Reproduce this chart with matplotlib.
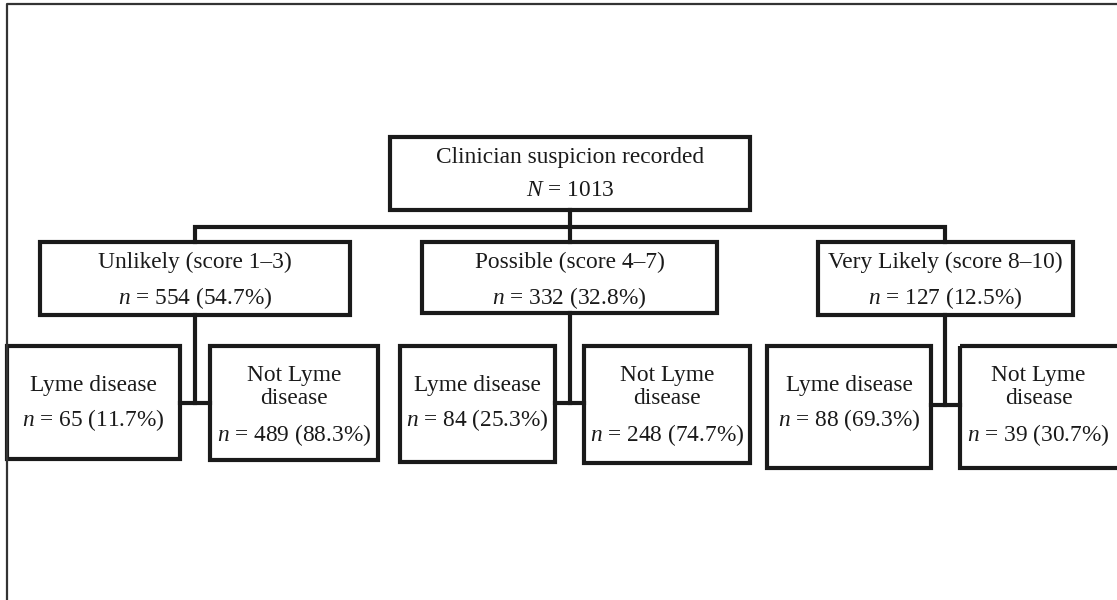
import matplotlib.pyplot as plt
from matplotlib.patches import Rectangle

plt.rcParams['font.family'] = 'Liberation Serif'
plt.rcParams['mathtext.fontset'] = 'custom'
plt.rcParams['mathtext.rm'] = 'Liberation Serif'
plt.rcParams['mathtext.it'] = 'Liberation Serif:italic'

root_label = "Clinician suspicion recorded"
total_n = 1013
groups = ["Unlikely (score 1\u20133)", "Possible (score 4\u20137)", "Very Likely (score 8\u201310)"]
group_n = [554, 332, 127]
group_pct = [54.7, 32.8, 12.5]
lyme_n = [65, 84, 88]
lyme_pct = [11.7, 25.3, 69.3]
not_lyme_n = [489, 248, 39]
not_lyme_pct = [88.3, 74.7, 30.7]

# layout, in pixel units of the 1117x600 canvas (y downwards)
FS = 16.8
LW = 3.0
root_box = (390, 137, 750, 210)
mid_boxes = [(40, 242, 350, 315), (422, 242, 717, 313), (818, 242, 1073, 315)]
stems = [195, 570, 945]
lyme_boxes = [(7, 346, 180, 459), (400, 346, 555, 462), (767, 346, 931, 468)]
not_boxes = [(210, 346, 378, 460), (584, 346, 750, 463), (960, 346, 1130, 468)]
join_y = [403, 403, 405]
bus_y = 227

fig = plt.figure(figsize=(11.17, 6.0), dpi=100)
ax = fig.add_axes([0, 0, 1, 1])
ax.set_xlim(0, 1117)
ax.set_ylim(600, 0)
ax.axis('off')


def box(b):
    x0, y0, x1, y1 = b
    ax.add_patch(Rectangle((x0, y0), x1 - x0, y1 - y0, fill=False,
                           edgecolor='#1a1a1a', linewidth=LW, joinstyle='miter'))


def line(xs, ys):
    ax.plot(xs, ys, color='#1a1a1a', linewidth=LW, solid_capstyle='projecting',
            solid_joinstyle='miter')


def txt(x, y, s):
    ax.text(x, y, s, ha='center', va='center', fontsize=FS, color='#1a1a1a')


# outer frame (only top and left visible)
ax.plot([7, 7, 1117], [600, 4, 4], color='0.2', linewidth=1.6)

# root
box(root_box)
cx = (root_box[0] + root_box[2]) / 2
txt(cx, 157, root_label)
txt(cx, 190, f"$N$ = {total_n}")

# bus connecting the three groups
line([stems[1], stems[1]], [root_box[3], mid_boxes[1][1]])
line([stems[0], stems[0], stems[2], stems[2]], [mid_boxes[0][1], bus_y, bus_y, mid_boxes[2][1]])

for i in range(3):
    mb = mid_boxes[i]
    box(mb)
    mx = stems[i]
    txt((mb[0] + mb[2]) / 2, 262, groups[i])
    txt((mb[0] + mb[2]) / 2, 298, f"$n$ = {group_n[i]} ({group_pct[i]}%)")

    lb = lyme_boxes[i]
    nb = not_boxes[i]
    line([mx, mx], [mb[3], join_y[i]])
    line([lb[2], nb[0]], [join_y[i], join_y[i]])
    box(lb)
    box(nb)

    lx = (lb[0] + lb[2]) / 2
    txt(lx, 385, "Lyme disease")
    txt(lx, 420, f"$n$ = {lyme_n[i]} ({lyme_pct[i]}%)")

    nx = (nb[0] + min(nb[2], 1117)) / 2
    txt(nx, 375, "Not Lyme")
    txt(nx, 398, "disease")
    txt(nx, 435, f"$n$ = {not_lyme_n[i]} ({not_lyme_pct[i]}%)")

fig.savefig('out.png', dpi=100, facecolor='white')
